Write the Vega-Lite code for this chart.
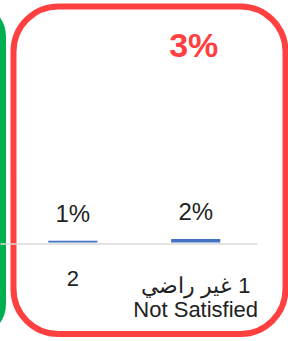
{
  "$schema": "https://vega.github.io/schema/vega-lite/v6.json",
  "padding": {"left": -60, "top": 3.5, "right": 0, "bottom": 0},
  "background": "white",
  "spacing": 10.5,
  "bounds": "flush",
  "datasets": {
    "pct": [
      {"cat": "2", "value": 0.01},
      {"cat": "1 غير راضي|Not Satisfied", "value": 0.02}
    ],
    "total": [
      {"cat": "1 غير راضي|Not Satisfied", "value": 0.03}
    ]
  },
  "config": {"font": "Liberation Sans"},
  "hconcat": [
    {
      "width": 60,
      "height": 327.5,
      "view": {"stroke": "#00B050", "strokeWidth": 6, "cornerRadius": 45, "fill": null},
      "data": {"values": [{}]},
      "mark": {"type": "text"},
      "encoding": {}
    },
    {
      "width": 272,
      "height": 327.5,
      "view": {"stroke": "#FF4040", "strokeWidth": 6, "cornerRadius": 45},
      "data": {"name": "pct"},
      "encoding": {
        "x": {
          "field": "cat",
          "type": "nominal",
          "sort": ["2", "1 غير راضي|Not Satisfied"],
          "scale": {"range": [-13.5, 243.5], "paddingInner": 0.6, "paddingOuter": 0.3456, "align": 0.568},
          "axis": {
            "title": null,
            "orient": "bottom",
            "offset": -90.5,
            "domainColor": "#D9D9D9",
            "domainWidth": 1.5,
            "ticks": false,
            "tickSize": 0,
            "grid": false,
            "labelAngle": 0,
            "labelFont": "Liberation Sans",
            "labelFontSize": 22,
            "labelColor": "#222222",
            "labelBaseline": "alphabetic",
            "labelLineHeight": 24.4,
            "labelPadding": {"condition": {"test": "datum.label === '2'", "value": 41.5}, "value": 48.8},
            "labelExpr": "datum.label === '2' ? '2' : ['\u200f' + split(datum.label, '|')[0], split(datum.label, '|')[1]]"
          }
        },
        "y": {
          "field": "value",
          "type": "quantitative",
          "scale": {"domain": [-0.538, 1.388], "nice": false, "zero": false},
          "axis": null
        }
      },
      "layer": [
        {"mark": {"type": "bar", "color": "#4472C4"}},
        {
          "mark": {"type": "text", "baseline": "alphabetic", "dy": -19, "fontSize": 24, "color": "#222222"},
          "encoding": {"text": {"field": "value", "format": ".0%"}}
        },
        {
          "data": {"name": "total"},
          "mark": {"type": "text", "baseline": "alphabetic", "dy": 50, "dx": -2, "fontSize": 34, "fontWeight": "bold", "color": "#FF4040"},
          "encoding": {
            "y": {"datum": 1.388},
            "text": {"field": "value", "format": ".0%"}
          }
        }
      ]
    }
  ]
}
